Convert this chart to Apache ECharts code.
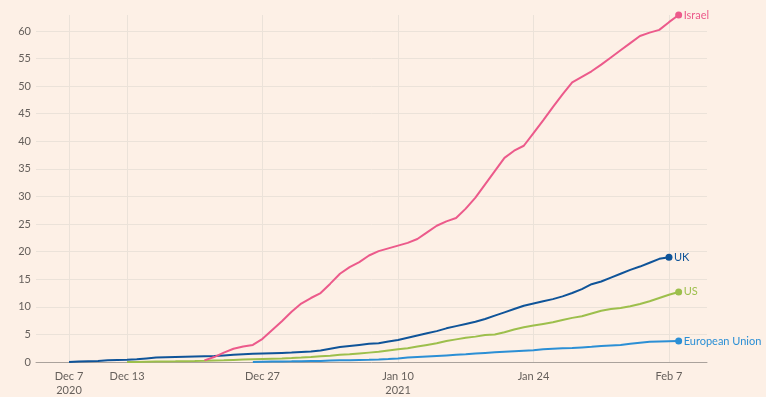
<!DOCTYPE html>
<html>
<head>
<meta charset="utf-8">
<script src="https://cdn.jsdelivr.net/npm/echarts@6/dist/echarts.min.js"></script>
<style>
  html, body { margin: 0; padding: 0; background: #fdf0e6; }
  #chart { width: 766px; height: 397px; }
</style>
</head>
<body>
<div id="chart"></div>
<script>
// doses per 100 people, one value per day
var israelStart = '2020-12-21';
var israel = [0.3, 0.9, 1.7, 2.4, 2.8, 3.1, 4.2, 5.8, 7.4, 9.1,
  10.6, 11.6, 12.5, 14.2, 16.0, 17.2, 18.1, 19.3, 20.1, 20.6,
  21.1, 21.6, 22.3, 23.5, 24.7, 25.5, 26.1, 27.8, 29.8, 32.2,
  34.6, 37.0, 38.3, 39.2, 41.5, 43.8, 46.2, 48.5, 50.7, 51.7,
  52.7, 53.9, 55.2, 56.5, 57.8, 59.1, 59.7, 60.2, 61.6, 62.9];

var ukStart = '2020-12-07';
var uk = [0.0, 0.1, 0.15, 0.2, 0.3, 0.35, 0.4, 0.5, 0.65, 0.8,
  0.85, 0.9, 0.95, 1.0, 1.05, 1.1, 1.2, 1.3, 1.4, 1.5,
  1.55, 1.6, 1.65, 1.7, 1.8, 1.9, 2.1, 2.4, 2.7, 2.9,
  3.1, 3.3, 3.4, 3.7, 4.0, 4.4, 4.8, 5.2, 5.6, 6.1,
  6.5, 6.9, 7.3, 7.8, 8.4, 9.0, 9.6, 10.2, 10.6, 11.0,
  11.4, 11.9, 12.5, 13.2, 14.1, 14.6, 15.3, 16.0, 16.7, 17.3,
  18.0, 18.7, 19.0];

var usStart = '2020-12-13';
var us = [0, 0.02, 0.05, 0.08, 0.1, 0.12, 0.15, 0.18, 0.22, 0.27,
  0.32, 0.38, 0.44, 0.5, 0.55, 0.6, 0.65, 0.72, 0.8, 0.9,
  1.05, 1.15, 1.3, 1.4, 1.55, 1.7, 1.85, 2.1, 2.3, 2.5,
  2.8, 3.1, 3.4, 3.8, 4.1, 4.4, 4.6, 4.9, 5.0, 5.4,
  5.9, 6.3, 6.6, 6.9, 7.2, 7.6, 8.0, 8.3, 8.8, 9.3,
  9.6, 9.8, 10.1, 10.5, 11.0, 11.6, 12.2, 12.7];

var euStart = '2020-12-26';
var eu = [0.0, 0.05, 0.08, 0.1, 0.12, 0.15, 0.18, 0.2, 0.25, 0.3,
  0.33, 0.38, 0.42, 0.47, 0.55, 0.65, 0.8, 0.9, 1.0, 1.1,
  1.2, 1.3, 1.4, 1.55, 1.65, 1.75, 1.85, 1.95, 2.05, 2.15,
  2.3, 2.4, 2.5, 2.55, 2.65, 2.75, 2.9, 3.0, 3.1, 3.3,
  3.5, 3.65, 3.7, 3.75, 3.8];

var xTicks = ['2020-12-07', '2020-12-13', '2020-12-27', '2021-01-10', '2021-01-24', '2021-02-07'];
var xTickLabels = ['Dec 7\n2020', 'Dec 13', 'Dec 27', 'Jan 10\n2021', 'Jan 24', 'Feb 7'];

var DAY = 864e5;
function toTime(s) {
  var p = s.split('-');
  return Date.UTC(+p[0], +p[1] - 1, +p[2]);
}
function daily(start, values) {
  var t0 = toTime(start);
  var last = values.length - 1;
  return values.map(function (v, i) {
    var item = { value: [t0 + i * DAY, v] };
    if (i === last) { item.symbol = 'circle'; item.symbolSize = 7; }
    return item;
  });
}

var tickTimes = xTicks.map(toTime);
var labelFor = {};
tickTimes.forEach(function (t, i) { labelFor[t] = xTickLabels[i]; });

var font = 'Lato';
var chart = echarts.init(document.getElementById('chart'));

function lineSeries(name, color, start, values) {
  return {
    name: name,
    type: 'line',
    data: daily(start, values),
    symbol: 'none',
    showSymbol: true,
    lineStyle: { color: color, width: 2 },
    itemStyle: { color: color },
    endLabel: {
      show: true,
      formatter: '{a}',
      color: color,
      fontFamily: font,
      fontSize: 11,
      distance: 5
    },
    emphasis: { disabled: true },
    animation: false
  };
}

chart.setOption({
  backgroundColor: '#fdf0e6',
  animation: false,
  grid: { left: 36, right: 59, top: 15, bottom: 33 },
  xAxis: {
    type: 'value',
    min: toTime('2020-12-07') - 3.41 * DAY,
    max: toTime('2020-12-07') + 65.93 * DAY,
    axisLine: { show: true, lineStyle: { color: '#aaa29c', width: 1 } },
    axisTick: { show: false, customValues: tickTimes },
    splitLine: { show: true, lineStyle: { color: '#ebe2d9', width: 1 } },
    axisLabel: {
      customValues: tickTimes,
      formatter: function (v) { return labelFor[v] || ''; },
      color: '#66605c',
      fontFamily: font,
      fontSize: 11,
      lineHeight: 14,
      margin: 7,
      hideOverlap: false
    }
  },
  yAxis: {
    type: 'value',
    min: 0,
    max: 62.9,
    interval: 5,
    axisLine: { show: false },
    axisTick: { show: false },
    splitLine: { show: true, showMaxLine: false, lineStyle: { color: '#ebe2d9', width: 1 } },
    axisLabel: {
      showMaxLabel: false,
      color: '#66605c',
      fontFamily: font,
      fontSize: 11,
      margin: 5
    }
  },
  series: [
    lineSeries('European Union', '#2b8fd5', euStart, eu),
    lineSeries('US', '#9dbf4c', usStart, us),
    lineSeries('UK', '#0f5499', ukStart, uk),
    lineSeries('Israel', '#ec5a8b', israelStart, israel)
  ]
});
</script>
</body>
</html>
